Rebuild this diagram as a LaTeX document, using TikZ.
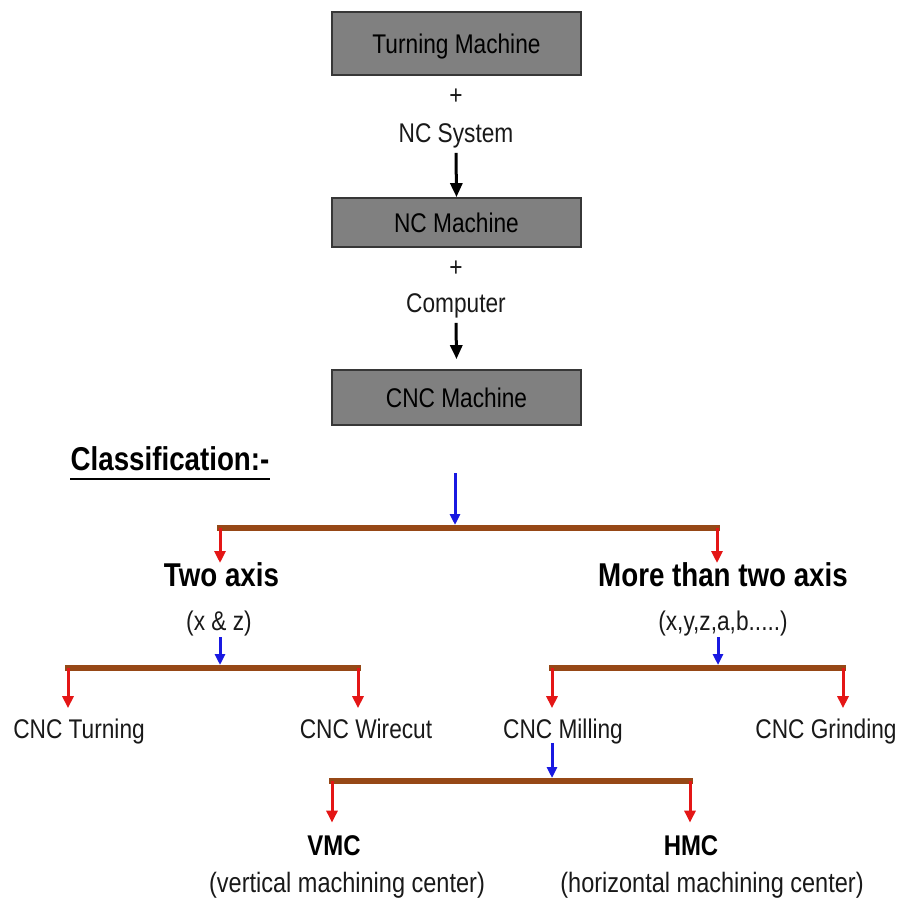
\documentclass[tikz,border=0pt]{standalone}
\usepackage{fontspec}
\setmainfont{Liberation Sans}[FakeStretch=0.84]
\usetikzlibrary{arrows.meta}
\definecolor{brn}{RGB}{150,72,22}
\definecolor{rd}{RGB}{228,22,22}
\definecolor{bl}{RGB}{25,25,225}
\definecolor{boxgray}{RGB}{128,128,128}
\definecolor{boxedge}{RGB}{55,55,55}
\definecolor{txt}{RGB}{25,25,25}
\begin{document}
\begin{tikzpicture}[x=1pt,y=-1pt,
  reg/.style={inner sep=0pt, text height=19.3pt, text depth=0pt, text=txt, font=\fontsize{27}{32}\selectfont},
  regb/.style={inner sep=0pt, text height=20pt, text depth=0pt, text=txt, font=\fontsize{28}{33}\selectfont},
  head/.style={inner sep=0pt, text height=23.6pt, text depth=0pt, text=black, font=\bfseries\fontsize{33}{38}\selectfont},
  subhead/.style={inner sep=0pt, text height=20.4pt, text depth=0pt, text=black, font=\bfseries\fontsize{28.5}{33}\selectfont},
  machbox/.style={reg, text=black, draw=boxedge, line width=1.8pt, fill=boxgray, minimum width=249pt},
  blk/.style={line width=3pt, black, -{Triangle[length=14pt,width=12pt]}},
  blu/.style={line width=3pt, bl, -{Triangle[length=11pt,width=10pt]}},
  red/.style={line width=3pt, rd, -{Triangle[length=12pt,width=11pt]}},
  bar/.style={line width=6pt, brn, line cap=rect}
]
\useasboundingbox (0,0) rectangle (899,901);

% top chain
\node[machbox, minimum height=63pt] (tm) at (456.5,43.5) {Turning Machine};
\node[reg] (plus1) at (456,95) {+};
\node[reg] (ncsys) at (456,133) {NC System};
\node[machbox, minimum height=49pt] (nc) at (456.5,222.5) {NC Machine};
\node[reg] (plus2) at (456,267) {+};
\node[reg] (comp) at (456,303) {Computer};
\node[machbox, minimum height=55pt] (cnc) at (456.5,397.5) {CNC Machine};

\draw[blk] ([yshift=-10pt]ncsys.south) -- (nc.north);
\draw[blk] ([yshift=-10pt]comp.south) -- ([yshift=10pt]cnc.north);

% classification
\node[head] (cls) at (170,459) {Classification:-};
\draw[line width=1.8pt, black] ([yshift=-8pt]cls.south west) -- ([yshift=-8pt]cls.south east);

\coordinate (c0) at (455,473);
\coordinate (j0) at (455,528);
\coordinate (l0) at (220,528);
\coordinate (r0) at (717,528);
\node[head] (two) at (221.5,575) {Two axis};
\node[reg] (twoc) at (219,621) {(x \& z)};
\node[head] (more) at (723,575) {More than two axis};
\node[reg] (morec) at (723,621) {(x,y,z,a,b.....)};

\draw[bar] (l0) -- (r0);
\draw[blu] (c0) -- ([yshift=3pt]j0);
\draw[red] (l0) -- (l0 |- two.north);
\draw[red] (r0) -- (r0 |- more.north);

% two axis branch
\coordinate (c1) at (220,637);
\coordinate (j1) at (220,668);
\coordinate (l1) at (68,668);
\coordinate (r1) at (358,668);
\node[reg] (turn) at (79,729) {CNC Turning};
\node[reg] (wire) at (366,729) {CNC Wirecut};
\draw[bar] (l1) -- (r1);
\draw[blu] (c1) -- ([yshift=3pt]j1);
\draw[red] (l1) -- ([yshift=11pt]l1 |- turn.north);
\draw[red] (r1) -- ([yshift=11pt]r1 |- wire.north);

% more than two axis branch
\coordinate (c2) at (718,637);
\coordinate (j2) at (718,668);
\coordinate (l2) at (552,668);
\coordinate (r2) at (843,668);
\node[reg] (mill) at (563,729) {CNC Milling};
\node[reg] (grind) at (826,729) {CNC Grinding};
\draw[bar] (l2) -- (r2);
\draw[blu] (c2) -- ([yshift=3pt]j2);
\draw[red] (l2) -- ([yshift=11pt]l2 |- mill.north);
\draw[red] (r2) -- ([yshift=11pt]r2 |- grind.north);

% milling branch
\coordinate (j3) at (552,781);
\coordinate (l3) at (332,781);
\coordinate (r3) at (690,781);
\node[subhead] (vmc) at (334,845) {VMC};
\node[subhead] (hmc) at (691,845) {HMC};
\node[regb] (vmct) at (347,882) {(vertical machining center)};
\node[regb] (hmct) at (712,882) {(horizontal machining center)};
\draw[bar] (l3) -- (r3);
\draw[blu] ([yshift=-4pt]mill.south -| j3) -- ([yshift=3pt]j3);
\draw[red] (l3) -- ([yshift=12pt]l3 |- vmc.north);
\draw[red] (r3) -- ([yshift=12pt]r3 |- hmc.north);
\end{tikzpicture}
\end{document}
